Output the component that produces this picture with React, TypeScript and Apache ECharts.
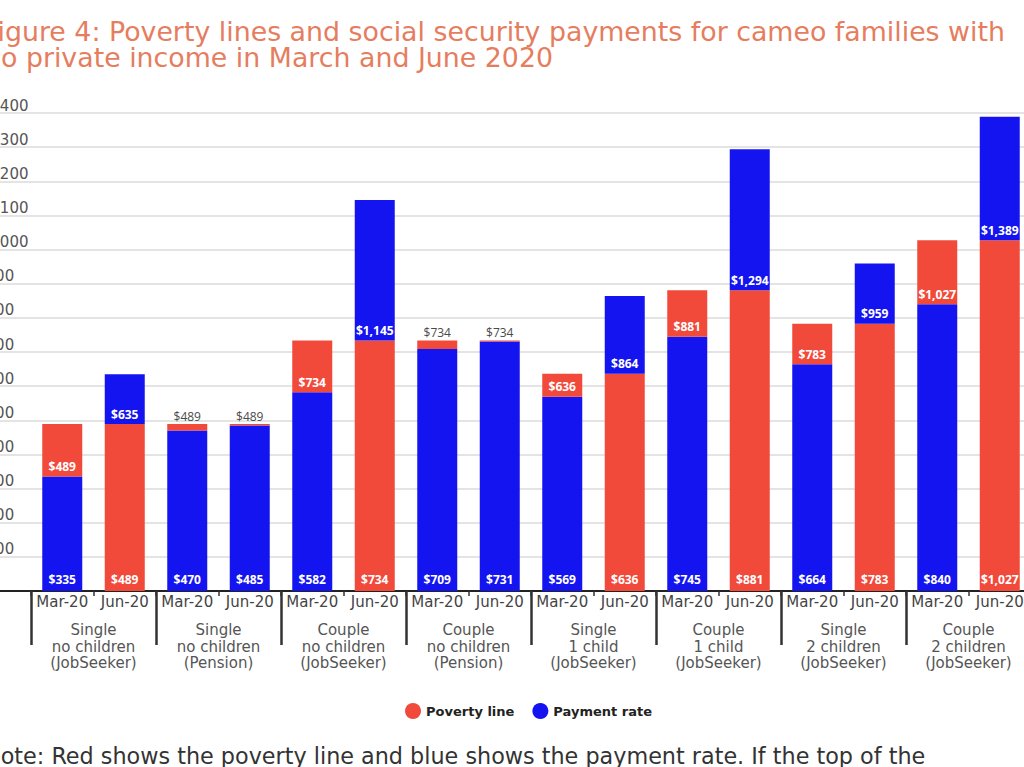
import React, { useEffect, useRef } from "react";
import * as echarts from "echarts";

const groups = [
  "Single\nno children\n(JobSeeker)",
  "Single\nno children\n(Pension)",
  "Couple\nno children\n(JobSeeker)",
  "Couple\nno children\n(Pension)",
  "Single\n1 child\n(JobSeeker)",
  "Couple\n1 child\n(JobSeeker)",
  "Single\n2 children\n(JobSeeker)",
  "Couple\n2 children\n(JobSeeker)",
];
const periods = ["Mar-20", "Jun-20"];
const povertyLine = [489, 489, 489, 489, 734, 734, 734, 734, 636, 636, 881, 881, 783, 783, 1027, 1027];
const paymentRate = [335, 635, 470, 485, 582, 1145, 709, 731, 569, 864, 745, 1294, 664, 959, 840, 1389];
const yTicks = { min: 0, max: 1400, interval: 100 };

const RED = "#f14a3b";
const BLUE = "#1414f0";
const FONT = "Open Sans";
const WIDE = "DejaVu Sans";

const fmt = (v: number) => "$" + v.toLocaleString("en-US");

export default function App() {
  const ref = useRef<HTMLDivElement>(null);
  useEffect(() => {
    const chart = echarts.init(ref.current!, null, { renderer: "svg" });
    const cats: string[] = [];
    groups.forEach(() => periods.forEach((p) => cats.push(p)));

    const insideLabel = {
      show: true,
      position: "insideBottom",
      distance: 4,
      color: "#ffffff",
      fontWeight: "bold",
      fontSize: 12,
      fontFamily: FONT,
    };
    const frontLabel = { ...insideLabel, distance: 6 };
    const smallTop = { position: "top", distance: 2, color: "#4a4a4a", fontWeight: "normal", fontSize: 12 };

    const frontPayment = paymentRate.map((p, i) => (p < povertyLine[i] ? p : "-"));
    const frontPoverty = povertyLine.map((v, i) => (v <= paymentRate[i] ? v : "-"));
    const topPoverty = povertyLine.map((v, i) => {
      if (!(v > paymentRate[i])) return "-";
      const d = v - paymentRate[i];
      return d < 60 ? { value: d, label: smallTop } : d;
    });
    const topPayment = paymentRate.map((p, i) => {
      if (!(p > povertyLine[i])) return "-";
      const d = p - povertyLine[i];
      return d < 60 ? { value: d, label: smallTop } : d;
    });

    const base = { type: "bar", stack: "total", barWidth: 40, xAxisIndex: 0, yAxisIndex: 0 };

    chart.setOption({
      animation: false,
      textStyle: { fontFamily: FONT },
      graphic: [
        {
          type: "text",
          x: -16,
          y: 18,
          style: {
            text: "Figure 4: Poverty lines and social security payments for cameo families with\nno private income in March and June 2020",
            fontFamily: WIDE,
            fontSize: 26.8,
            lineHeight: 26,
            fill: "#e57d5e",
          },
        },
        {
          type: "text",
          x: -16,
          y: 745,
          style: {
            text: "Note: Red shows the poverty line and blue shows the payment rate. If the top of the",
            fontFamily: WIDE,
            fontSize: 22.3,
            fill: "#333333",
          },
        },
      ],
      legend: {
        data: ["Poverty line", "Payment rate"],
        icon: "circle",
        itemWidth: 16,
        itemHeight: 16,
        itemGap: 18,
        left: 400,
        top: 698,
        textStyle: { fontFamily: WIDE, fontWeight: "bold", fontSize: 13, color: "#222222" },
      },
      grid: [
        { left: 31, width: 1000, top: 113, height: 478, outerBoundsMode: "none" },
        { left: -24, width: 1064, top: 113, height: 478, outerBoundsMode: "none" },
      ],
      xAxis: [
        {
          type: "category",
          gridIndex: 0,
          data: cats,
          axisLine: { show: false },
          axisTick: { show: true, length: 5, interval: 0, lineStyle: { color: "#333333", width: 1.5 } },
          axisLabel: { interval: 0, margin: 3, fontSize: 15, color: "#444444", fontFamily: WIDE },
        },
        {
          type: "category",
          gridIndex: 0,
          position: "bottom",
          data: groups,
          axisLine: { show: false },
          axisTick: { show: true, length: 54, interval: 0, lineStyle: { color: "#333333", width: 2.5 } },
          axisLabel: { interval: 0, margin: 31, fontSize: 15, lineHeight: 16.5, color: "#555555", fontFamily: WIDE },
        },
        {
          type: "category",
          gridIndex: 1,
          data: [""],
          axisLine: { show: true, lineStyle: { color: "#222222", width: 2 } },
          axisTick: { show: false },
          axisLabel: { show: false },
        },
      ],
      yAxis: [
        { type: "value", gridIndex: 0, ...yTicks, show: false, splitLine: { show: false } },
        {
          type: "value",
          gridIndex: 1,
          ...yTicks,
          axisLine: { show: false },
          axisTick: { show: false },
          splitLine: { show: true, lineStyle: { color: "#e4e4e4", width: 2 } },
          axisLabel: {
            inside: true,
            margin: 0,
            verticalAlign: "bottom",
            fontSize: 15,
            color: "#555555",
            fontFamily: WIDE,
            formatter: (v: number) => fmt(v),
          },
        },
      ],
      series: [
        {
          ...base,
          name: "Payment rate",
          itemStyle: { color: BLUE },
          data: frontPayment,
          label: { ...frontLabel, formatter: (p: any) => fmt(paymentRate[p.dataIndex]) },
        },
        {
          ...base,
          name: "Poverty line",
          itemStyle: { color: RED },
          data: frontPoverty,
          label: { ...frontLabel, formatter: (p: any) => fmt(povertyLine[p.dataIndex]) },
        },
        {
          ...base,
          name: "Poverty line",
          itemStyle: { color: RED },
          data: topPoverty,
          label: { ...insideLabel, formatter: (p: any) => fmt(povertyLine[p.dataIndex]) },
        },
        {
          ...base,
          name: "Payment rate",
          itemStyle: { color: BLUE },
          data: topPayment,
          label: { ...insideLabel, formatter: (p: any) => fmt(paymentRate[p.dataIndex]) },
        },
      ],
    });
    return () => chart.dispose();
  }, []);
  return (
    <div
      ref={ref}
      style={{ position: "fixed", left: 0, top: 0, width: 1024, height: 767, background: "#ffffff" }}
    />
  );
}
